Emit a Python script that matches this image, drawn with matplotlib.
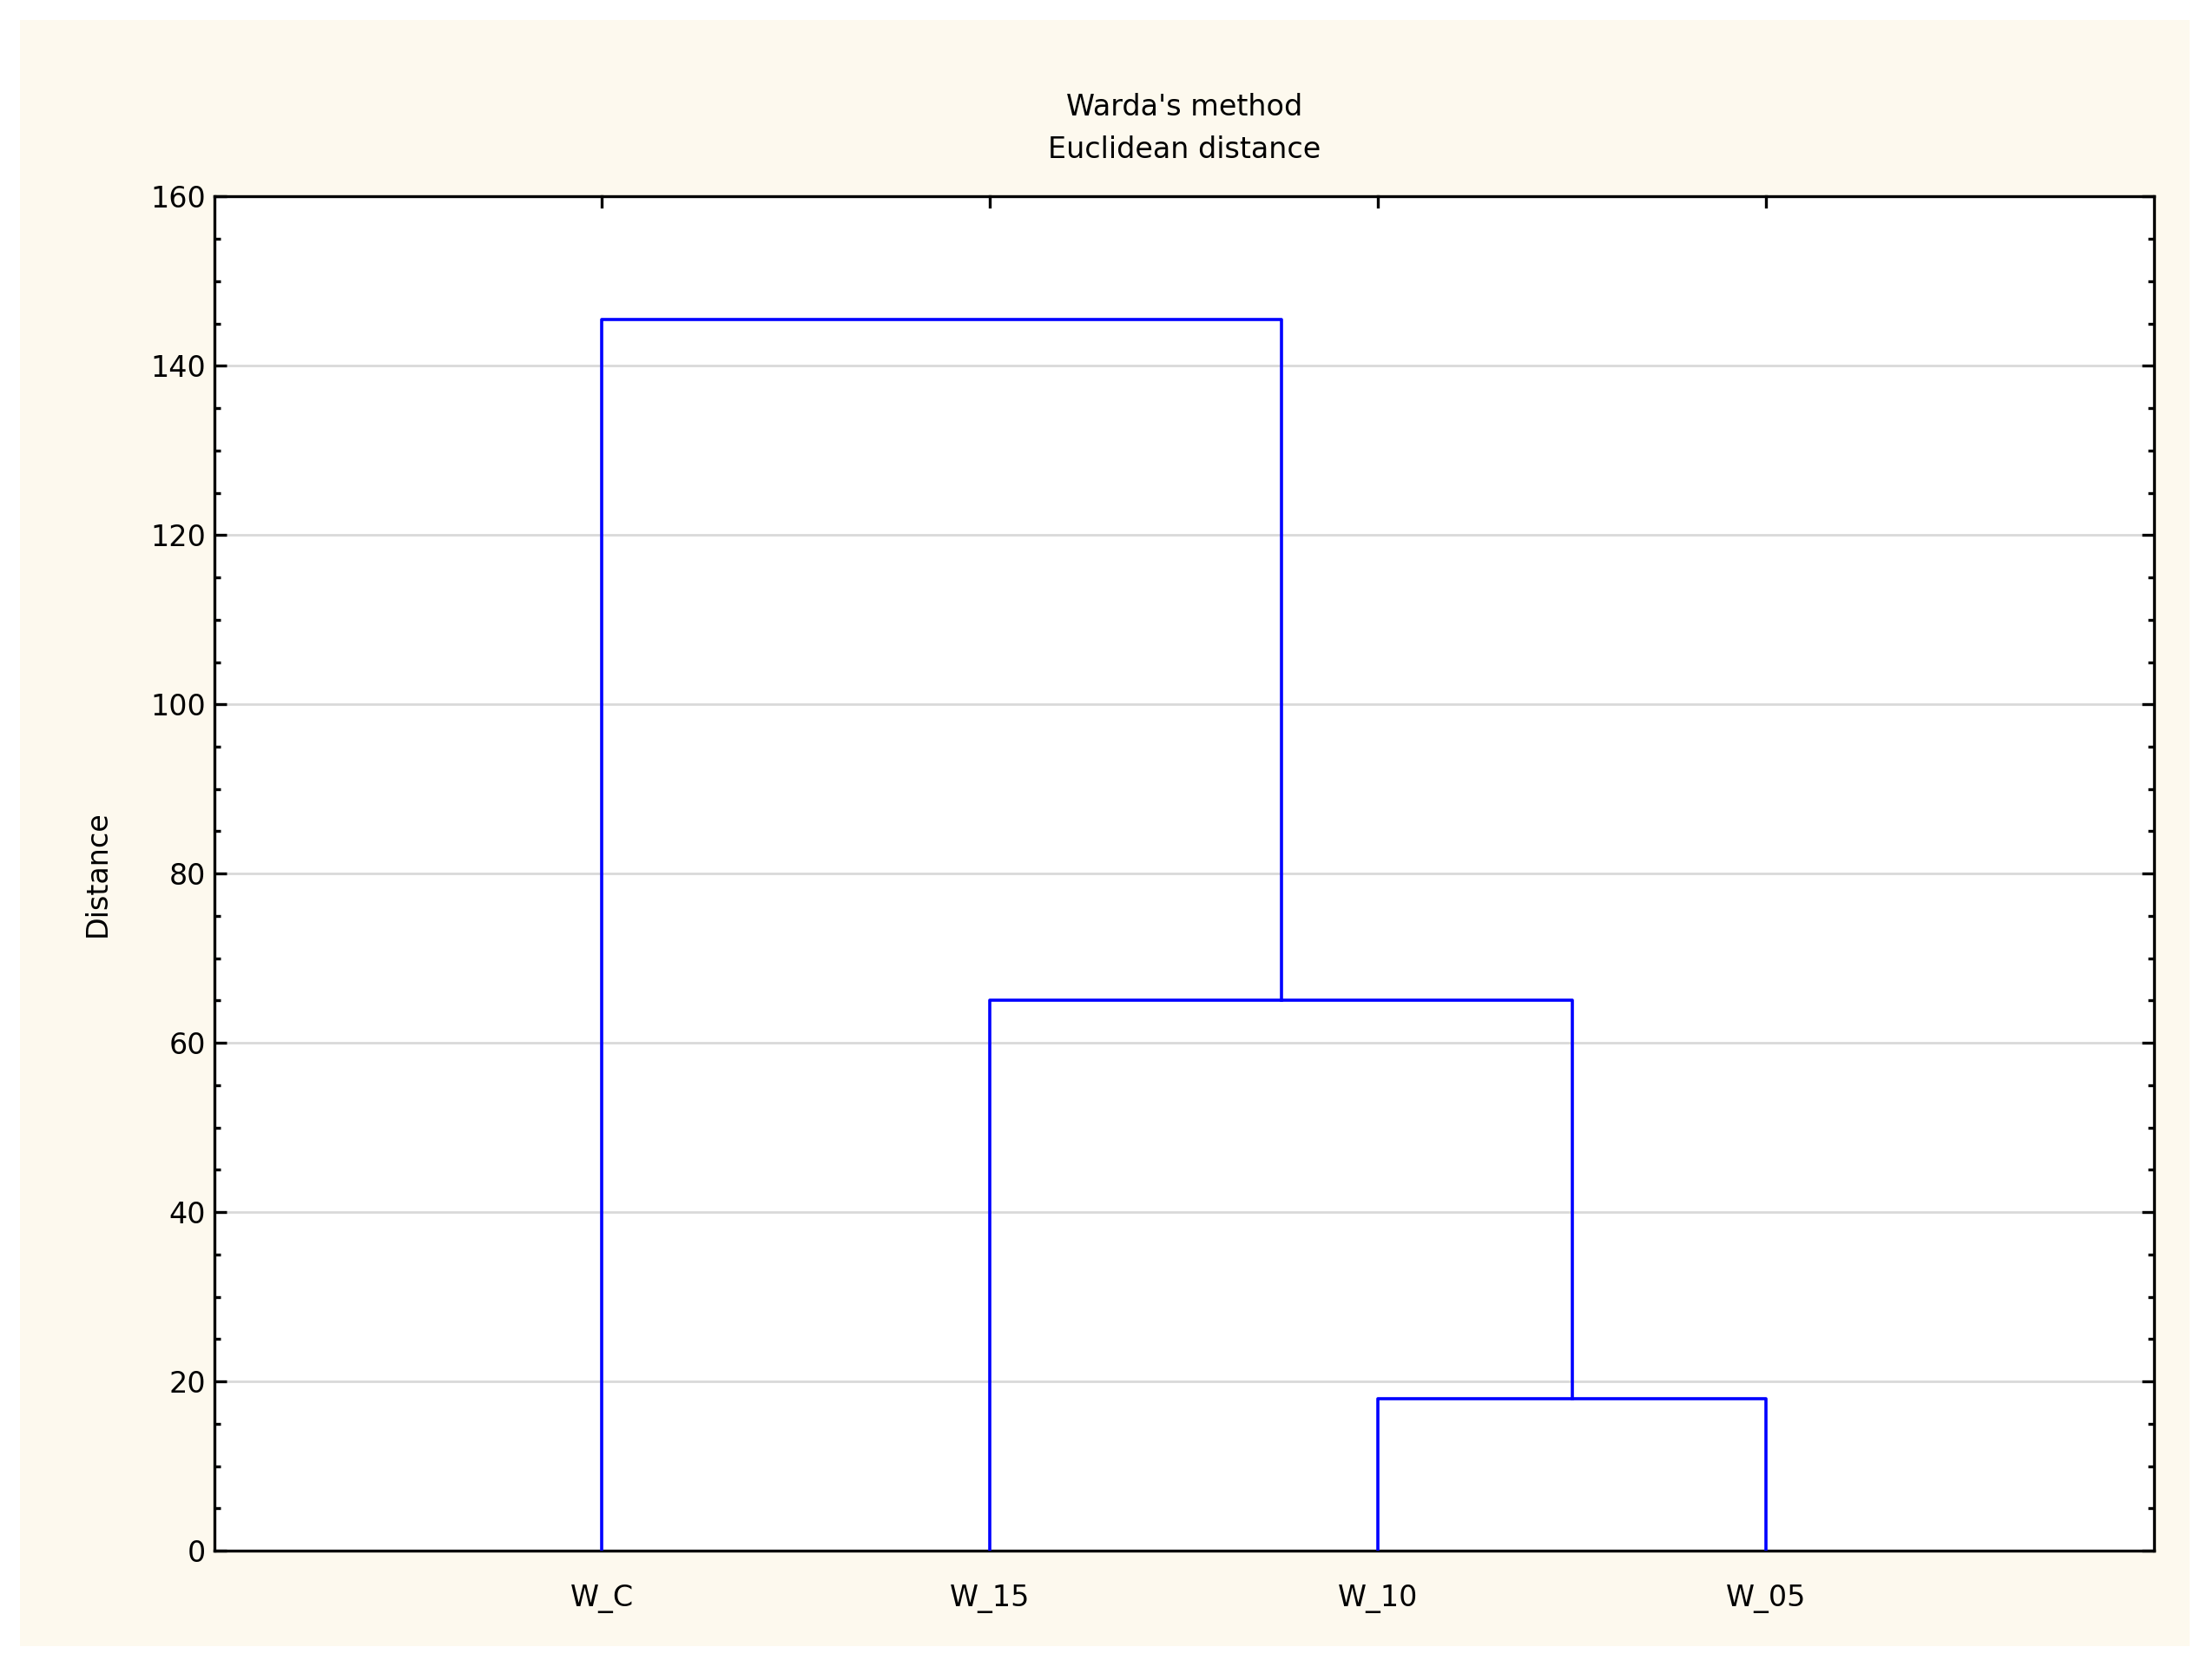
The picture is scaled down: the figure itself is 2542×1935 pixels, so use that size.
import matplotlib.pyplot as plt
from matplotlib.patches import Rectangle
from matplotlib.ticker import MultipleLocator

# dendrogram data
leaves = ["W_C", "W_15", "W_10", "W_05"]
leaf_pos = [1, 2, 3, 4]
# each link: (left x, right x, left bottom height, right bottom height, merge height)
links = [
    (3, 4, 0, 0, 18),
    (2, 3.5, 0, 18, 65),
    (1, 2.75, 0, 65, 145.5),
]

fig = plt.figure(figsize=(12.71, 9.675), dpi=200)
fig.patch.set_facecolor("white")
fig.patches.append(Rectangle((0.009, 0.02), 0.983, 0.968, transform=fig.transFigure,
                             facecolor="#fdf9ee", edgecolor="none", zorder=-10))

ax = fig.add_axes([0.097, 0.077, 0.879, 0.806])
ax.set_zorder(5)
ax.set_facecolor("white")

for xl, xr, hl, hr, h in links:
    ax.plot([xl, xl, xr, xr], [hl, h, h, hr], color="#0000ff", lw=1.3, zorder=3)

ax.set_xlim(0, 5)
ax.set_ylim(0, 160)
ax.set_xticks(leaf_pos)
ax.set_xticklabels(leaves)
ax.yaxis.set_major_locator(MultipleLocator(20))
ax.yaxis.set_minor_locator(MultipleLocator(5))
ax.grid(axis="y", color="#d9d9d9", lw=1)
ax.set_axisbelow(True)
ax.tick_params(axis="both", which="both", direction="in", top=True, right=True, labelsize=12)
ax.tick_params(axis="x", length=0, pad=14)
ax.tick_params(axis="y", which="major", length=5, width=1.2)
ax.tick_params(axis="y", which="minor", length=2.5, width=1.2)
# inward ticks on top at leaf positions
for x in leaf_pos:
    ax.plot([x, x], [160, 158.8], color="black", lw=1.2, clip_on=False)
for s in ax.spines.values():
    s.set_linewidth(1.2)

ax.set_ylabel("Distance", fontsize=12, labelpad=16)
ax.set_title("Warda's method\nEuclidean distance", fontsize=12, pad=16, linespacing=1.6)

fig.savefig("out.png", dpi=200, facecolor=fig.get_facecolor())
